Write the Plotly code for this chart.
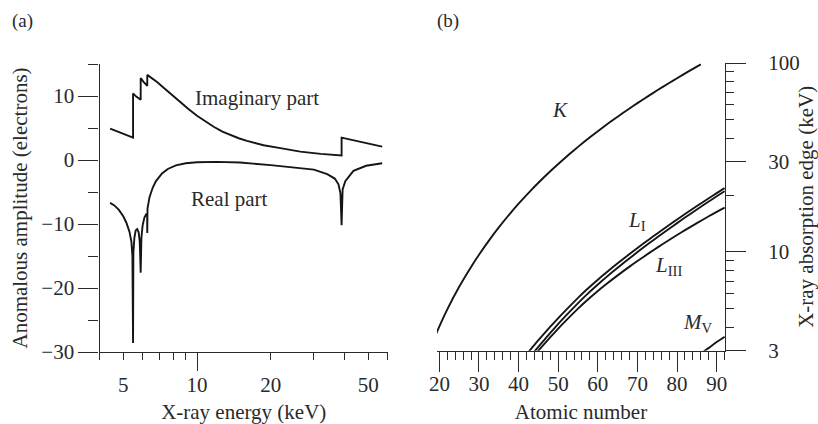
import math
import plotly.graph_objects as go

# ---------------- Panel (a): anomalous scattering of La ----------------
imag_E = [4.42, 5.0, 5.483, 5.483, 5.65, 5.891, 5.891, 6.05, 6.266, 6.266, 6.87, 7.31, 8.0, 8.55,
          9.2, 10.0, 10.8, 11.7, 12.7, 13.7, 14.8, 16.0, 18.7, 21.9, 26.4, 32.0, 35.5, 38.925,
          38.925, 45.0, 52.0, 57.0]
imag_f = [4.9, 4.1, 3.5, 10.4, 9.9, 9.4, 12.8, 12.2, 11.6, 13.3, 12.2, 11.3, 10.0, 8.95,
          8.0, 6.9, 6.0, 5.2, 4.45, 3.9, 3.4, 3.0, 2.3, 1.85, 1.3, 0.95, 0.8, 0.7,
          3.5, 2.95, 2.5, 2.1]

real_E = [4.42, 4.6, 4.8, 5.0, 5.15, 5.3, 5.4, 5.45, 5.483, 5.50, 5.55, 5.62, 5.70, 5.78, 5.84,
          5.891, 5.93, 6.0, 6.1, 6.2, 6.26, 6.266, 6.28, 6.4, 6.6, 6.8, 7.2, 7.6, 8.2, 9.0,
          10.0, 12.0, 15.0, 20.0, 25.0, 30.0, 34.0, 36.5, 37.8, 38.5, 38.925, 39.3, 40.3,
          43.5, 49.0, 57.0]
real_f = [-6.7, -7.1, -7.8, -8.8, -9.8, -11.2, -12.8, -15.0, -28.6, -14.5, -12.2, -11.0, -10.8,
          -11.3, -12.8, -17.6, -12.2, -10.2, -9.0, -8.5, -8.6, -11.4, -7.6, -5.8, -4.3, -3.3,
          -2.1, -1.4, -0.85, -0.5, -0.36, -0.3, -0.4, -0.8, -1.15, -1.5, -2.2, -2.9, -3.8,
          -5.2, -10.2, -4.6, -3.3, -1.7, -0.9, -0.5]

a_xtick_vals = [5, 10, 20, 50]
a_xtick_text = ["5", "10", "20", "50"]
a_xminor_vals = [4, 6, 7, 8, 9, 30, 40, 60]
a_ytick_vals = [-30, -20, -10, 0, 10]
a_yminor_vals = [-25, -15, -5, 5, 15]

# ---------------- Panel (b): absorption edges vs atomic number ----------------
K_Z = [19, 20, 22, 25, 28, 30, 33, 35, 38, 40, 43, 45, 48, 50, 53, 55, 58, 60, 63, 65,
       68, 70, 73, 75, 78, 80, 83, 86]
K_E = [3.607, 4.038, 4.966, 6.539, 8.333, 9.659, 11.867, 13.474, 16.105, 17.998, 21.044,
       23.220, 26.711, 29.200, 33.169, 35.985, 40.443, 43.569, 48.519, 51.996, 57.486,
       61.332, 67.417, 71.676, 78.395, 83.102, 90.526, 98.404]

LI_Z = [42, 43, 44, 45, 46, 47, 48, 50, 52, 55, 57, 60, 62, 65, 68, 70, 73, 75, 78, 80, 82,
        85, 88, 90, 92]
LI_E = [2.866, 3.043, 3.224, 3.412, 3.604, 3.806, 4.018, 4.465, 4.939, 5.714, 6.266, 7.126,
        7.737, 8.708, 9.751, 10.486, 11.682, 12.527, 13.880, 14.839, 15.861, 17.493, 19.237,
        20.472, 21.757]

LII_Z = [43, 44, 45, 46, 47, 48, 50, 52, 55, 57, 60, 62, 65, 68, 70, 73, 75, 78, 80, 82, 85,
         88, 90, 92]
LII_E = [2.793, 2.967, 3.146, 3.330, 3.524, 3.727, 4.156, 4.612, 5.359, 5.891, 6.722, 7.312,
         8.252, 9.264, 9.978, 11.136, 11.959, 13.273, 14.209, 15.200, 16.785, 18.484, 19.693,
         20.948]

LIII_Z = [44, 45, 46, 47, 48, 50, 52, 55, 57, 60, 62, 65, 68, 70, 73, 75, 78, 80, 82, 85, 88,
          90, 92]
LIII_E = [2.838, 3.004, 3.173, 3.351, 3.538, 3.929, 4.341, 5.012, 5.483, 6.208, 6.716, 7.514,
          8.358, 8.944, 9.881, 10.535, 11.564, 12.284, 13.035, 14.214, 15.444, 16.300, 17.166]

MV_Z = [86, 87, 88, 89, 90, 91, 92]
MV_E = [2.892, 3.000, 3.105, 3.219, 3.332, 3.442, 3.552]

b_xtick_vals = [20, 30, 40, 50, 60, 70, 80, 90]
b_xminor_vals = [z for z in range(22, 92, 2) if z % 10 != 0] + [92]
b_ytick_vals = [3, 10, 30, 100]
b_yminor_vals = [4, 5, 6, 7, 8, 9, 20, 40, 50, 60, 70, 80, 90]

# ---------------- style ----------------
FONT = "Liberation Serif"
INK = "#151515"
AX = "#2a2a2a"
LW = 1.9
FS = 21

fig = go.Figure()
fig.add_trace(go.Scatter(x=imag_E, y=imag_f, mode="lines", line=dict(color=INK, width=LW),
                         xaxis="x", yaxis="y", showlegend=False))
fig.add_trace(go.Scatter(x=real_E, y=real_f, mode="lines", line=dict(color=INK, width=LW),
                         xaxis="x", yaxis="y", showlegend=False))
fig.add_trace(go.Scatter(x=[None], y=[None], mode="lines", xaxis="x3", yaxis="y", showlegend=False))

for zs, es in [(K_Z, K_E), (LI_Z, LI_E), (LII_Z, LII_E), (LIII_Z, LIII_E), (MV_Z, MV_E)]:
    fig.add_trace(go.Scatter(x=zs, y=es, mode="lines",
                             line=dict(color=INK, width=LW, shape="spline", smoothing=0.6),
                             xaxis="x2", yaxis="y2", showlegend=False))

W, H = 818, 424
dom_ax = [99.5 / W, 388 / W]
dom_ay = [(H - 352) / H, (H - 64) / H]
dom_bx = [437 / W, 725 / W]
dom_by = [(H - 350.7) / H, (H - 63) / H]
xr_a = [math.log10(4.0), math.log10(60.2)]

tickfont = dict(family=FONT, size=FS, color=AX)
common = dict(showgrid=False, zeroline=False, showline=True, linecolor=AX, linewidth=1.2,
              ticks="outside", tickcolor=AX, tickwidth=1.2, tickfont=tickfont, automargin=False)

fig.update_layout(
    width=W, height=H, margin=dict(l=0, r=0, t=0, b=0, autoexpand=False),
    paper_bgcolor="white", plot_bgcolor="white",
    font=dict(family=FONT, size=FS, color=AX),
    xaxis=dict(domain=dom_ax, type="log", range=xr_a, anchor="y",
               tickmode="array", tickvals=a_xtick_vals, ticktext=a_xtick_text, ticklen=7,
               ticklabelstandoff=7,
               minor=dict(tickmode="array", tickvals=a_xminor_vals, ticklen=7, ticks="outside",
                          tickcolor=AX, tickwidth=1.2),
               title=dict(text="X-ray energy (keV)", font=dict(family=FONT, size=FS, color=AX), standoff=25),
               **common),
    xaxis3=dict(overlaying="x", anchor="y", side="bottom", type="log", range=xr_a,
                tickmode="array", tickvals=[10], ticklen=18, ticks="outside", tickcolor=AX,
                tickwidth=1.2, showticklabels=False, showline=False, showgrid=False, zeroline=False,
                automargin=False),
    yaxis=dict(domain=dom_ay, range=[-30, 15], anchor="x",
               tickmode="array", tickvals=a_ytick_vals, ticklen=20,
               minor=dict(tickmode="array", tickvals=a_yminor_vals, ticklen=10, ticks="outside",
                          tickcolor=AX, tickwidth=1.2),
               title=dict(text="Anomalous amplitude (electrons)", font=dict(family=FONT, size=FS, color=AX), standoff=8),
               **common),
    xaxis2=dict(domain=dom_bx, range=[19.4, 92.1], anchor="y2",
                tickmode="array", tickvals=b_xtick_vals, ticklen=20, ticklabelstandoff=-6,
                minor=dict(tickmode="array", tickvals=b_xminor_vals, ticklen=8, ticks="outside",
                           tickcolor=AX, tickwidth=1.2),
                title=dict(text="Atomic number", font=dict(family=FONT, size=FS, color=AX), standoff=18),
                **common),
    yaxis2=dict(domain=dom_by, type="log", range=[math.log10(3), 2], anchor="x2", side="right",
                tickmode="array", tickvals=b_ytick_vals, ticktext=["3", "10", "30", "100"], ticklen=20,
                ticklabelstandoff=18,
                minor=dict(tickmode="array", tickvals=b_yminor_vals, ticklen=8, ticks="outside",
                           tickcolor=AX, tickwidth=1.2),
                title=dict(text="X-ray absorption edge (keV)", font=dict(family=FONT, size=FS, color=AX), standoff=1),
                **common),
)

def ann(text, px, py, size=FS):
    fig.add_annotation(text=text, x=px / W, y=1 - py / H, xref="paper", yref="paper",
                       showarrow=False, xanchor="center", yanchor="middle",
                       font=dict(family=FONT, size=size, color=AX))

ann("(a)", 22, 21, 19)
ann("(b)", 448, 21, 19)
ann("Imaginary part", 257, 98)
ann("Real part", 229, 199)
ann("<i>K</i>", 560, 110)
ann("<i>L</i><sub>I</sub>", 637, 221)
ann("<i>L</i><sub>III</sub>", 668, 266)
ann("<i>M</i><sub>V</sub>", 698, 323)

fig.write_html("out.html")
